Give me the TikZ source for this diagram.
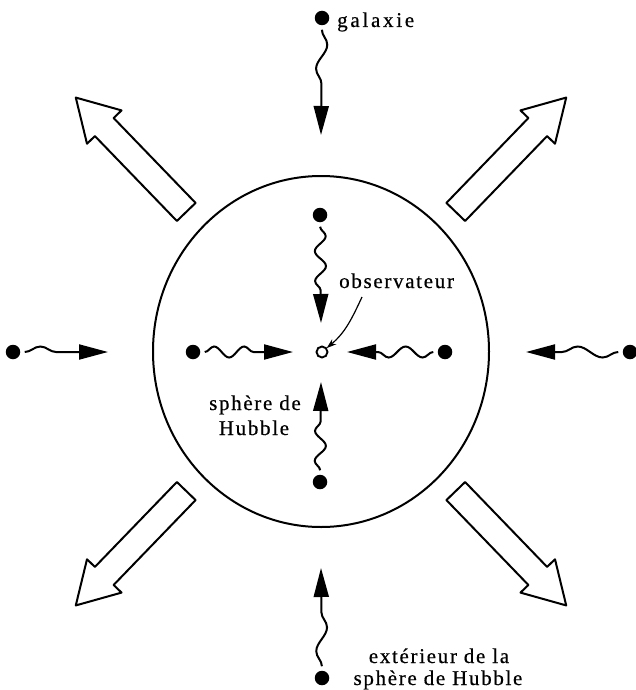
\documentclass[tikz,border=0pt]{standalone}
\usepackage{fontspec}
\setmainfont{Liberation Serif}[LetterSpace=8, FakeBold=0.5]
\usetikzlibrary{arrows.meta,decorations.pathmorphing,shapes.geometric}
\begin{document}
\begin{tikzpicture}[x=1pt,y=-1pt,
  galdot/.style={circle, fill=black, inner sep=0pt, minimum size=14.5pt, outer sep=4.5pt},
  obsdot/.style={circle, draw, line width=1.9pt, inner sep=0pt, minimum size=11pt, outer sep=0.5pt},
  wavyarrow/.style={line width=2pt, decorate,
    decoration={snake, amplitude=5.5pt, segment length=#1, post length=28pt},
    -{Triangle[length=29pt,width=15pt]}},
  blockarrow/.style={draw, line width=2pt, line join=round, fill=white},
  lbl/.style={inner sep=0pt, font=\fontsize{21}{25}\selectfont},
  pointer/.style={line width=1.2pt, -{Stealth[length=10pt,width=6.5pt]}}
]
\useasboundingbox (0,0) rectangle (636,690);

% Hubble sphere
\node[draw, ellipse, line width=2pt, minimum width=336pt, minimum height=351pt, inner sep=0pt] (sphere) at (321,351.5) {};

% block arrows (expansion)
\foreach \ang in {134,46,-46,-134}{
  \begin{scope}[shift={(321,351.5)}, rotate=\ang]
    \draw[blockarrow] (194,-13) -- (312,-13) -- (312,-24) -- (353,0) -- (312,24) -- (312,13) -- (194,13) -- cycle;
  \end{scope}
}

% observer
\node[obsdot] (obs) at (322,352) {};

% galaxies
\node[galdot] (gout1) at (322,18) {};
\node[galdot] (gout2) at (13,352) {};
\node[galdot] (gout3) at (630,352) {};
\node[galdot] (gout4) at (322,678) {};
\node[galdot] (gin1) at (320,215) {};
\node[galdot] (gin2) at (193,352) {};
\node[galdot] (gin3) at (445,352) {};
\node[galdot] (gin4) at (320,482) {};

% arrow tips
\coordinate (tout1) at (321,135);
\coordinate (tout2) at (108,352);
\coordinate (tout3) at (526,352);
\coordinate (tout4) at (321,568);
\coordinate (tin1) at (321,323);
\coordinate (tin2) at (293,352);
\coordinate (tin3) at (347,352);
\coordinate (tin4) at (321,382);

\draw[wavyarrow=48pt] (gout1) -- (tout1);
\draw[wavyarrow=50pt] (gout2) -- (tout2);
\draw[wavyarrow=50pt] (gout3) -- (tout3);
\draw[wavyarrow=48pt] (gout4) -- (tout4);
\draw[wavyarrow=30pt] (gin1) -- (tin1);
\draw[wavyarrow=30pt] (gin2) -- (tin2);
\draw[wavyarrow=34pt] (gin3) -- (tin3);
\draw[wavyarrow=30pt] (gin4) -- (tin4);

% labels
\node[lbl, anchor=base west] (galaxie) at (337,27) {\addfontfeature{LetterSpace=13}galaxie};
\node[lbl, anchor=base west] (obslbl) at (339,288) {observateur};
\node[lbl, anchor=base] (hubA) at (255,410) {sphère de};
\node[lbl, anchor=base] (hubB) at (254,435) {Hubble};
\node[lbl, anchor=base] (extA) at (439,663) {extérieur de la};
\node[lbl, anchor=base] (extB) at (438,685) {sphère de Hubble};

\coordinate (obsstart) at (362,297);
\draw[pointer] (obsstart) to[out=245, in=40] (obs);
\end{tikzpicture}
\end{document}
